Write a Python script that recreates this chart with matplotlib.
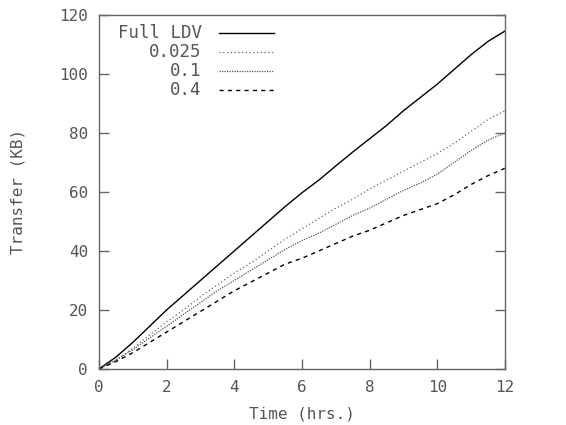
import matplotlib
matplotlib.use("Agg")
import matplotlib.pyplot as plt
from matplotlib.lines import Line2D

# time in hours, transfer in KB
hours = [0, 0.5, 1, 1.5, 2, 2.5, 3, 3.5, 4, 4.5, 5, 5.5, 6, 6.5, 7, 7.5, 8,
         8.5, 9, 9.5, 10, 10.5, 11, 11.5, 12]
full_ldv = [0, 4, 9, 14.5, 20, 25, 30, 35, 40, 45, 50, 55, 59.7, 64, 68.8,
            73.5, 78, 82.5, 87.5, 92, 96.5, 101.5, 106.5, 111, 114.5]
thr_0025 = [0, 3, 7, 11.5, 16, 20, 24.5, 28.5, 32.5, 36, 40, 44, 47.5, 51,
            54.5, 57.5, 61, 64, 67, 70, 73, 76.5, 80.5, 84.5, 87.5]
thr_01 = [0, 3, 6.5, 10.5, 14.5, 18.5, 22.5, 26.5, 30, 33.5, 37, 40.5, 43.5,
          46, 49, 52, 54.5, 57.5, 60.5, 63, 66, 70, 74, 77.5, 80]
thr_04 = [0, 2.5, 5.5, 9, 12.5, 16, 19.5, 23, 26.5, 29.5, 32.5, 35.5, 37.5,
          40, 42.5, 45, 47, 49.5, 52, 54, 56, 59, 62.5, 65.5, 68]

labels = ["Full LDV", "0.025", "0.1", "0.4"]
series = [full_ldv, thr_0025, thr_01, thr_04]
styles = [
    dict(color="black", lw=1.0, ls="-"),
    dict(color="#666666", lw=0.9, ls=(0, (1, 2))),
    dict(color="#555555", lw=0.9, ls=(0, (1, 1))),
    dict(color="black", lw=1.0, ls=(0, (3, 3))),
]

TXT = "#555555"
FONT = "DejaVu Sans Mono"

fig = plt.figure(figsize=(5.66, 4.25), dpi=100)
ax = fig.add_axes([0.175, 0.132, 0.717, 0.833])

for ys, st in zip(series, styles):
    ax.plot(hours, ys, **st)

ax.set_xlim(0, 12)
ax.set_ylim(0, 120)
ax.set_xticks(range(0, 13, 2))
ax.set_yticks(range(0, 121, 20))
ax.tick_params(direction="in", length=7, width=1, color="#666666",
               labelcolor=TXT, labelsize=11.5, right=True, top=False, pad=8)
for lab in ax.get_xticklabels() + ax.get_yticklabels():
    lab.set_family(FONT)
for sp in ax.spines.values():
    sp.set_color("#666666")
    sp.set_linewidth(1)

ax.set_xlabel("Time (hrs.)", family=FONT, color=TXT, fontsize=11.5, labelpad=8)
ax.set_ylabel("Transfer (KB)", family=FONT, color=TXT, fontsize=11.5, labelpad=24)

# gnuplot style key: right-aligned text, sample line after it
for i, (lab, st) in enumerate(zip(labels, styles)):
    y = 0.95 - i * 0.054
    ax.text(0.253, y, lab, transform=ax.transAxes, ha="right", va="center",
            family=FONT, color=TXT, fontsize=12.5)
    ax.add_line(Line2D([0.295, 0.43], [y, y], transform=ax.transAxes, **st))

fig.savefig("out.png", dpi=100)
